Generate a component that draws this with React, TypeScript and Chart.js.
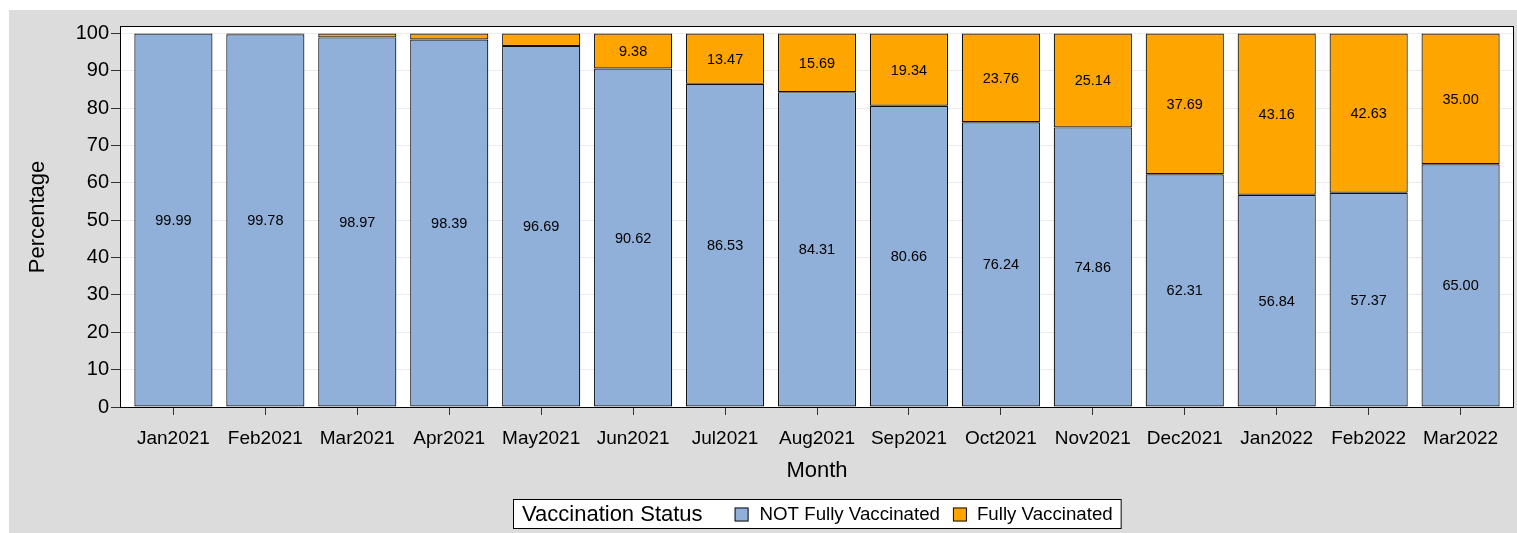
import React, { useEffect, useRef } from "react";
import { Chart, registerables } from "chart.js";

Chart.register(...registerables);

const months = [
  "Jan2021", "Feb2021", "Mar2021", "Apr2021", "May2021", "Jun2021", "Jul2021", "Aug2021",
  "Sep2021", "Oct2021", "Nov2021", "Dec2021", "Jan2022", "Feb2022", "Mar2022",
];
const notFully = [99.99, 99.78, 98.97, 98.39, 96.69, 90.62, 86.53, 84.31, 80.66, 76.24, 74.86, 62.31, 56.84, 57.37, 65.0];
const fully = [0.01, 0.22, 1.03, 1.61, 3.31, 9.38, 13.47, 15.69, 19.34, 23.76, 25.14, 37.69, 43.16, 42.63, 35.0];
const yTicks = [0, 10, 20, 30, 40, 50, 60, 70, 80, 90, 100];
const seriesNames = ["NOT Fully Vaccinated", "Fully Vaccinated"];
const legendTitle = "Vaccination Status";
const xTitle = "Month";
const yTitle = "Percentage";

const FONT = "'Liberation Sans', Arial, Helvetica, sans-serif";
const BLUE = "#90B0D9";
const ORANGE = "#FFA500";
const EDGE = "#111111";
const W = 1517;
const H = 533;

const decorPlugin = {
  id: "decor",
  beforeDraw(chart: any) {
    const { ctx, chartArea: a } = chart;
    ctx.save();
    ctx.fillStyle = "#DCDCDC";
    ctx.fillRect(9, 10, W - 9, H - 10);
    ctx.fillStyle = "#FFFFFF";
    ctx.fillRect(a.left, a.top, a.right - a.left, a.bottom - a.top);
    ctx.restore();
  },
  afterDatasetsDraw(chart: any) {
    const { ctx } = chart;
    ctx.save();
    ctx.font = `14.5px ${FONT}`;
    ctx.fillStyle = "#000";
    ctx.textAlign = "center";
    ctx.textBaseline = "middle";
    chart.data.datasets.forEach((ds: any, di: number) => {
      const meta = chart.getDatasetMeta(di);
      meta.data.forEach((el: any, i: number) => {
        const v = ds.data[i].y;
        if (v < 5) return;
        const y = (el.y + el.base) / 2 + 1;
        ctx.fillText(v.toFixed(2), el.x, y);
      });
    });
    ctx.restore();
  },
  afterDraw(chart: any) {
    const { ctx, chartArea: a } = chart;
    ctx.save();
    ctx.strokeStyle = "#000";
    ctx.lineWidth = 1;
    ctx.strokeRect(a.left - 0.5, a.top - 0.5, a.right - a.left + 1, a.bottom - a.top + 1);
    ctx.fillStyle = "#000";
    ctx.textAlign = "center";
    ctx.textBaseline = "middle";
    ctx.font = `22px ${FONT}`;
    ctx.fillText(xTitle, (a.left + a.right) / 2, 471);
    ctx.save();
    ctx.translate(38, (a.top + a.bottom) / 2);
    ctx.rotate(-Math.PI / 2);
    ctx.fillText(yTitle, 0, 0);
    ctx.restore();
    const titleFont = `22px ${FONT}`;
    const itemFont = `18.7px ${FONT}`;
    ctx.font = titleFont;
    const tw = ctx.measureText(legendTitle).width;
    ctx.font = itemFont;
    const w1 = ctx.measureText(seriesNames[0]).width;
    const w2 = ctx.measureText(seriesNames[1]).width;
    const sw = 14;
    const total = 9 + tw + 32 + sw + 11 + w1 + 13 + sw + 10 + w2 + 9;
    const cx = (a.left + a.right) / 2;
    const bx = Math.round(cx - total / 2);
    const by = 499;
    const bh = 30;
    ctx.fillStyle = "#FFF";
    ctx.fillRect(bx, by, total, bh);
    ctx.strokeStyle = "#000";
    ctx.strokeRect(bx + 0.5, by + 0.5, total - 1, bh - 1);
    const cy = by + bh / 2 + 0.5;
    ctx.textAlign = "left";
    ctx.fillStyle = "#000";
    ctx.font = titleFont;
    let x = bx + 9;
    ctx.fillText(legendTitle, x, cy);
    x += tw + 32;
    ctx.fillStyle = BLUE;
    ctx.fillRect(x, cy - sw / 2, sw, sw);
    ctx.strokeStyle = EDGE;
    ctx.strokeRect(x + 0.5, cy - sw / 2 + 0.5, sw - 1, sw - 1);
    x += sw + 11;
    ctx.fillStyle = "#000";
    ctx.font = itemFont;
    ctx.fillText(seriesNames[0], x, cy);
    x += w1 + 13;
    ctx.fillStyle = ORANGE;
    ctx.fillRect(x, cy - sw / 2, sw, sw);
    ctx.strokeStyle = EDGE;
    ctx.strokeRect(x + 0.5, cy - sw / 2 + 0.5, sw - 1, sw - 1);
    x += sw + 10;
    ctx.fillStyle = "#000";
    ctx.fillText(seriesNames[1], x, cy);
    ctx.restore();
  },
};

export default function App() {
  const ref = useRef<HTMLCanvasElement | null>(null);
  useEffect(() => {
    if (!ref.current) return;
    const mk = (vals: number[]) => vals.map((v, i) => ({ x: i, y: v }));
    const chart = new Chart(ref.current, {
      type: "bar",
      data: {
        datasets: [
          {
            label: seriesNames[0],
            data: mk(notFully),
            backgroundColor: BLUE,
            borderColor: EDGE,
            borderWidth: 1.2,
            borderSkipped: false,
            barPercentage: 0.85,
            categoryPercentage: 1,
          },
          {
            label: seriesNames[1],
            data: mk(fully),
            backgroundColor: ORANGE,
            borderColor: EDGE,
            borderWidth: 1.2,
            borderSkipped: false,
            barPercentage: 0.85,
            categoryPercentage: 1,
          },
        ],
      } as any,
      options: {
        responsive: false,
        animation: false,
        events: [],
        layout: { padding: { left: 0, right: 4, top: 27, bottom: 0 } },
        plugins: { legend: { display: false }, tooltip: { enabled: false }, title: { display: false } },
        scales: {
          x: {
            type: "linear",
            stacked: true,
            offset: false,
            min: -0.57,
            max: 14.57,
            afterBuildTicks: (s: any) => {
              s.ticks = months.map((_, i) => ({ value: i }));
            },
            afterFit: (s: any) => {
              s.height = 126;
            },
            ticks: {
              callback: (v: any) => months[Math.round(Number(v))],
              font: { family: FONT, size: 19 },
              color: "#000",
              padding: 12,
              autoSkip: false,
              maxRotation: 0,
            },
            grid: { offset: false, drawOnChartArea: false, drawTicks: true, tickLength: 8, tickColor: "#333" },
            border: { display: false },
          },
          y: {
            stacked: true,
            min: 0,
            max: 101.75,
            afterBuildTicks: (s: any) => {
              s.ticks = yTicks.map((v) => ({ value: v }));
            },
            afterFit: (s: any) => {
              s.width = 121;
            },
            ticks: {
              font: { family: FONT, size: 20 },
              color: "#000",
              padding: 2,
            },
            grid: { color: "#EBEBEB", tickColor: "#333", tickLength: 10, drawTicks: true },
            border: { display: false },
          },
        },
      } as any,
      plugins: [decorPlugin],
    });
    return () => chart.destroy();
  }, []);
  return (
    <div style={{ position: "absolute", left: 0, top: 0, width: W, height: H }}>
      <canvas ref={ref} width={W} height={H} style={{ display: "block" }} />
    </div>
  );
}
